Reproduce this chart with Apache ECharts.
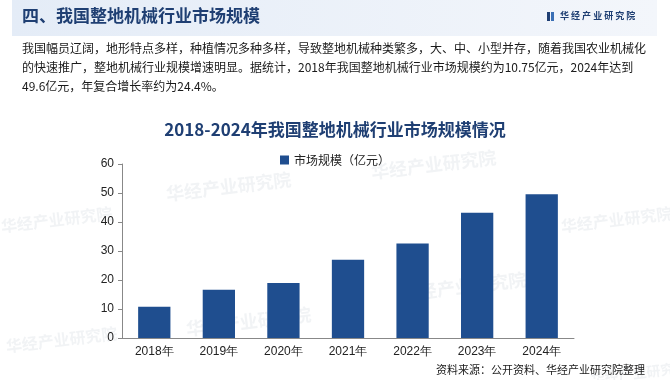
<!DOCTYPE html>
<html><head><meta charset="utf-8">
<script src="https://cdn.jsdelivr.net/npm/echarts@6/dist/echarts.min.js"></script>
<style>html,body{margin:0;padding:0;background:#fff}#c{width:670px;height:380px}</style>
</head><body><div id="c"></div>
<script>
const categories = ['2018年','2019年','2020年','2021年','2022年','2023年','2024年'];
const marketSize = [10.75, 16.6, 19.0, 27.0, 32.6, 43.2, 49.6];
const seriesName = '市场规模（亿元）';
const yTicks = [0, 10, 20, 30, 40, 50, 60];

const chart = echarts.init(document.getElementById('c'));
const F = '"Noto Sans CJK SC", "Microsoft YaHei", sans-serif';
const wm = (x, y, size) => ({type:'text', left:x, top:y, rotation:0.12, z:-1,
  style:{text:'华经产业研究院', fill:'rgba(150,160,180,0.13)', font:'bold '+size+'px '+F}});
chart.setOption({
  textStyle:{fontFamily:F},
  title:{text:'2018-2024年我国整地机械行业市场规模情况', left:'center', top:116,
    textStyle:{fontSize:17, fontWeight:'bold', color:'#1f3f73', fontFamily:F}},
  legend:{top:149, left:'center', itemWidth:9, itemHeight:9, icon:'rect',
    textStyle:{fontSize:12, color:'#222', fontFamily:F}},
  grid:{left:122, right:96, top:164, bottom:42, containLabel:false},
  xAxis:{type:'category', data:categories,
    axisLine:{lineStyle:{color:'#888'}}, axisTick:{lineStyle:{color:'#888'}, length:4},
    axisLabel:{fontSize:12, color:'#222', margin:8, fontFamily:'Arial, "Liberation Sans", sans-serif'}},
  yAxis:{type:'value', min:0, max:60, interval:10,
    axisLine:{show:true, lineStyle:{color:'#888'}}, axisTick:{show:true, length:4, lineStyle:{color:'#888'}},
    splitLine:{show:false},
    axisLabel:{fontSize:12, color:'#222', margin:8, fontFamily:'Arial, "Liberation Sans", sans-serif'}},
  series:[{name:seriesName, type:'bar', data:marketSize, barWidth:'50%',
    itemStyle:{color:'#1f4e8f'}}],
  graphic:[
    {type:'rect', shape:{x:12, y:0, width:645, height:36}, z:-2,
      style:{fill:new echarts.graphic.LinearGradient(0,0,1,0,[{offset:0,color:'#e4ecf7'},{offset:1,color:'#f3f6fb'}])}},
    {type:'text', left:22, top:7, style:{text:'四、我国整地机械行业市场规模', fill:'#1f3f73', font:'bold 17px '+F}},
    {type:'rect', shape:{x:547, y:12, width:3, height:9}, style:{fill:'#1f3f73'}},
    {type:'rect', shape:{x:551, y:12, width:3, height:9}, style:{fill:'#3a6fb5'}},
    {type:'text', left:560, top:11, style:{text:'华 经 产 业 研 究 院', fill:'#1f3f73', font:'bold 9px '+F}},
    {type:'text', left:22, top:42, style:{text:'我国幅员辽阔，地形特点多样，种植情况多种多样，导致整地机械种类繁多，大、中、小型并存，随着我国农业机械化', fill:'#1a1a1a', font:'12px '+F}},
    {type:'text', left:22, top:61, style:{text:'的快速推广，整地机械行业规模增速明显。据统计，2018年我国整地机械行业市场规模约为10.75亿元，2024年达到', fill:'#1a1a1a', font:'12px '+F}},
    {type:'text', left:22, top:80, style:{text:'49.6亿元，年复合增长率约为24.4%。', fill:'#1a1a1a', font:'12px '+F}},
    {type:'text', right:25, top:364, style:{text:'资料来源：公开资料、华经产业研究院整理', fill:'#1a1a1a', font:'11px '+F}},
    wm(165, 170, 18), wm(0, 205, 16), wm(370, 148, 18), wm(560, 205, 16), wm(185, 305, 18), wm(400, 270, 18), wm(5, 325, 16), wm(590, 360, 14)
  ]
});
</script></body></html>
